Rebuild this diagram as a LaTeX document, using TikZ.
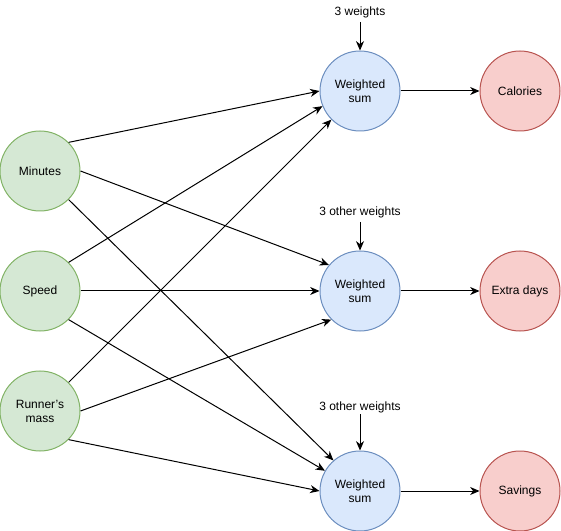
\documentclass[tikz,border=0pt]{standalone}
\usepackage{fontspec}
\setmainfont{Liberation Sans}
\usetikzlibrary{arrows.meta}
\definecolor{ingreen}{HTML}{D5E8D4}
\definecolor{inline}{HTML}{82B366}
\definecolor{sumblue}{HTML}{DAE8FC}
\definecolor{sumline}{HTML}{6C8EBF}
\definecolor{outred}{HTML}{F8CECC}
\definecolor{outline}{HTML}{B85450}
\begin{document}
\begin{tikzpicture}[x=0.75pt, y=-0.75pt,
    every node/.style={font=\fontsize{9pt}{10.5pt}\selectfont, align=center},
    ball/.style={circle, minimum size=60pt, inner sep=0pt, line width=0.75pt},
    inball/.style={ball, draw=inline, fill=ingreen},
    sumball/.style={ball, draw=sumline, fill=sumblue},
    outball/.style={ball, draw=outline, fill=outred},
    >={Stealth[length=7pt, width=6pt, inset=2.2pt]},
    link/.style={->, line width=0.75pt}]
  \useasboundingbox (0,-1) rectangle (561,530);

  \node (in1) [inball] at (40,170) {Minutes};
  \node (in2) [inball] at (40,290) {Speed};
  \node (in3) [inball] at (40,410) {Runner{\char"27}s\\mass};

  \node (s1) [sumball] at (360,90) {Weighted\\sum};
  \node (s2) [sumball] at (360,290) {Weighted\\sum};
  \node (s3) [sumball] at (360,490) {Weighted\\sum};

  \node (o1) [outball] at (520,90) {Calories};
  \node (o2) [outball] at (520,290) {Extra days};
  \node (o3) [outball] at (520,490) {Savings};

  \node (w1) [inner sep=3pt] at (360,11) {3 weights};
  \node (w2) [inner sep=3pt] at (360,211) {3 other weights};
  \node (w3) [inner sep=1pt] at (360,406) {3 other weights};

  \draw[link] (w1) -- (s1);
  \draw[link] (w2) -- (s2);
  \draw[link] (w3) -- (s3);

  \draw[link] (in1.45) -- (s1.180);
  \draw[link] (in1.0) -- (s2.140);
  \draw[link] (in1.-45) -- (s3.131);
  \draw[link] (in2.45) -- (s1.202);
  \draw[link] (in2.0) -- (s2.180);
  \draw[link] (in2.-45) -- (s3.150);
  \draw[link] (in3.45) -- (s1.225);
  \draw[link] (in3.0) -- (s2.225);
  \draw[link] (in3.-45) -- (s3.180);

  \draw[link] (s1) -- (o1);
  \draw[link] (s2) -- (o2);
  \draw[link] (s3) -- (o3);
\end{tikzpicture}
\end{document}
